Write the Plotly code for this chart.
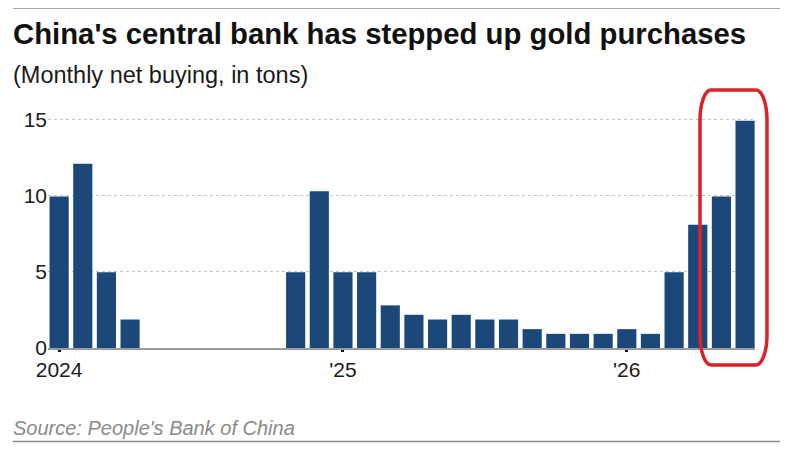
import plotly.graph_objects as go

# monthly net gold buying by the PBOC, tons
months = [
    "Jan 2024", "Feb 2024", "Mar 2024", "Apr 2024", "May 2024", "Jun 2024",
    "Jul 2024", "Aug 2024", "Sep 2024", "Oct 2024", "Nov 2024", "Dec 2024",
    "Jan 2025", "Feb 2025", "Mar 2025", "Apr 2025", "May 2025", "Jun 2025",
    "Jul 2025", "Aug 2025", "Sep 2025", "Oct 2025", "Nov 2025", "Dec 2025",
    "Jan 2026", "Feb 2026", "Mar 2026", "Apr 2026", "May 2026", "Jun 2026",
]
tons = [
    9.95, 12.1, 4.98, 1.87, 0, 0,
    0, 0, 0, 0, 4.98, 10.3,
    4.98, 4.98, 2.8, 2.18, 1.87, 2.18,
    1.87, 1.87, 1.24, 0.93, 0.93, 0.93,
    1.24, 0.93, 4.98, 8.1, 9.95, 14.93,
]
tick_labels = ["2024", "'25", "'26"]
y_ticks = [0, 5, 10, 15]

# the page body has an 8px margin, so the figure is 8px smaller
OFF = 8
W, H = 788 - OFF, 454 - OFF
# plot area edges in page pixels
P_LEFT, P_RIGHT, P_TOP, P_BOTTOM = 48, 755, 115, 348
L, R = P_LEFT - OFF, W - (P_RIGHT - OFF)
T, B = P_TOP - OFF, H - (P_BOTTOM - OFF)
PW, PH = P_RIGHT - P_LEFT, P_BOTTOM - P_TOP


def px(x):
    return (x - P_LEFT) / PW


def py(y):
    return (P_BOTTOM - y) / PH


xpos = list(range(len(months)))
tickvals = [i for i, m in enumerate(months) if m.startswith("Jan")]

fig = go.Figure()
fig.add_trace(
    go.Bar(
        x=xpos,
        y=tons,
        hovertext=months,
        marker=dict(color="#1b4878", line=dict(width=0)),
        showlegend=False,
    )
)

font = "Liberation Sans, Arial, sans-serif"

fig.update_layout(
    width=W,
    height=H,
    margin=dict(l=L, r=R, t=T, b=B),
    plot_bgcolor="white",
    paper_bgcolor="white",
    bargap=0.19,
    font=dict(family=font, color="#1a1a1a", size=21),
    xaxis=dict(
        range=[-0.47, 29.42],
        tickvals=tickvals,
        ticktext=tick_labels,
        showgrid=False,
        zeroline=False,
        showline=True,
        linecolor="#9a9a9a",
        linewidth=2,
        ticks="outside",
        ticklen=2,
        tickwidth=3,
        tickcolor="#111111",
        tickfont=dict(size=21, color="#1a1a1a"),
    ),
    yaxis=dict(
        range=[0, 15.3],
        tickvals=y_ticks,
        showgrid=True,
        gridcolor="#c4c4c4",
        griddash="dot",
        gridwidth=1,
        zeroline=False,
        showline=False,
        ticks="",
        tickfont=dict(size=21, color="#1a1a1a"),
    ),
)

# title, subtitle and source note
fig.add_annotation(
    text="<b>China's central bank has stepped up gold purchases</b>",
    xref="paper", yref="paper", x=px(11), y=py(33),
    xanchor="left", yanchor="middle", showarrow=False,
    font=dict(family=font, size=29.3, color="#111111"),
)
fig.add_annotation(
    text="(Monthly net buying, in tons)",
    xref="paper", yref="paper", x=px(11), y=py(75),
    xanchor="left", yanchor="middle", showarrow=False,
    font=dict(family=font, size=23.5, color="#1a1a1a"),
)
fig.add_annotation(
    text="<i>Source: People's Bank of China</i>",
    xref="paper", yref="paper", x=px(11), y=py(428),
    xanchor="left", yanchor="middle", showarrow=False,
    font=dict(family=font, size=20, color="#8a8a8a"),
)

# rules at top and bottom
for yy in (8, 441.5):
    fig.add_shape(
        type="line", xref="paper", yref="paper",
        x0=px(13), x1=px(783), y0=py(yy), y1=py(yy),
        line=dict(color="#8c8c8c", width=1.5),
    )

# red highlight around the last two months
x0, x1, y0, y1 = px(700), px(767), py(365), py(90)
rx, ry = 11 / PW, 30 / PH
k = 0.45
path = (
    f"M {x0 + rx},{y1} L {x1 - rx},{y1} "
    f"C {x1 - rx * k},{y1} {x1},{y1 - ry * k} {x1},{y1 - ry} "
    f"L {x1},{y0 + ry} "
    f"C {x1},{y0 + ry * k} {x1 - rx * k},{y0} {x1 - rx},{y0} "
    f"L {x0 + rx},{y0} "
    f"C {x0 + rx * k},{y0} {x0},{y0 + ry * k} {x0},{y0 + ry} "
    f"L {x0},{y1 - ry} "
    f"C {x0},{y1 - ry * k} {x0 + rx * k},{y1} {x0 + rx},{y1} Z"
)
fig.add_shape(
    type="path", xref="paper", yref="paper", path=path,
    line=dict(color="#d8232a", width=3.5),
)

fig.write_html("out.html")
